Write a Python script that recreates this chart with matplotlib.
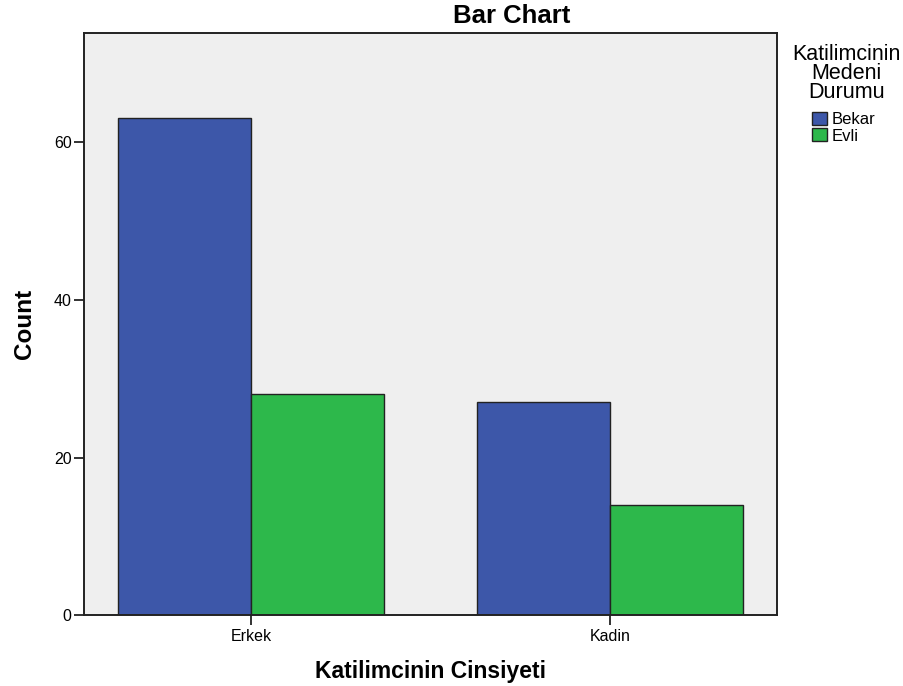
import numpy as np
import matplotlib
matplotlib.use("Agg")
import matplotlib.pyplot as plt

# Veriler
cinsiyet = ["Erkek", "Kadin"]
bekar = [63, 27]
evli = [28, 14]
seriler = ["Bekar", "Evli"]
y_ticks = [0, 20, 40, 60]

renk_bekar = "#3d57a9"
renk_evli = "#2db84b"

plt.rcParams["font.family"] = ["Liberation Sans", "DejaVu Sans"]

fig = plt.figure(figsize=(9.04, 6.86), dpi=100)
ax = fig.add_axes([0.093, 0.103, 0.766, 0.849])
ax.set_facecolor("#efefef")

x = np.arange(len(cinsiyet))
w = 0.37
ax.bar(x - w / 2, bekar, w, color=renk_bekar, edgecolor="#222222", linewidth=1.0, label=seriler[0])
ax.bar(x + w / 2, evli, w, color=renk_evli, edgecolor="#222222", linewidth=1.0, label=seriler[1])

ax.set_xlim(-0.465, 1.463)
ax.set_ylim(0, 73.8)
ax.set_xticks(x)
ax.set_xticklabels(cinsiyet, fontsize=11.5)
ax.set_yticks(y_ticks)
ax.set_yticklabels([str(t) for t in y_ticks], fontsize=11.5)
ax.tick_params(axis="both", length=7.5, width=1.3, color="#222222")
ax.tick_params(axis="y", pad=1.5)
ax.tick_params(axis="x", pad=2.5)
for s in ax.spines.values():
    s.set_linewidth(1.4)
    s.set_color("#222222")

# SPSS tarzi baslik: grafik alaninin tamamina gore ortali
fig.text(0.566, 1 - 23 / 686, "Bar Chart", ha="center", va="baseline",
         fontsize=18.5, fontweight="bold")
ax.set_xlabel("Katilimcinin Cinsiyeti", fontsize=16.5, fontweight="bold", labelpad=11)
ax.set_ylabel("Count", fontsize=17.5, fontweight="bold", labelpad=13)

leg = fig.legend(loc="upper left", bbox_to_anchor=(0.889, 0.849), frameon=False,
                 fontsize=12, handlelength=0.9, handleheight=0.8,
                 handletextpad=0.3, labelspacing=0.08, borderpad=0)
fig.text(0.936, 1 - 44 / 686, "Katilimcinin\nMedeni\nDurumu", ha="center", va="top",
         fontsize=15.5, linespacing=0.88)

fig.savefig("out.png", dpi=100)
